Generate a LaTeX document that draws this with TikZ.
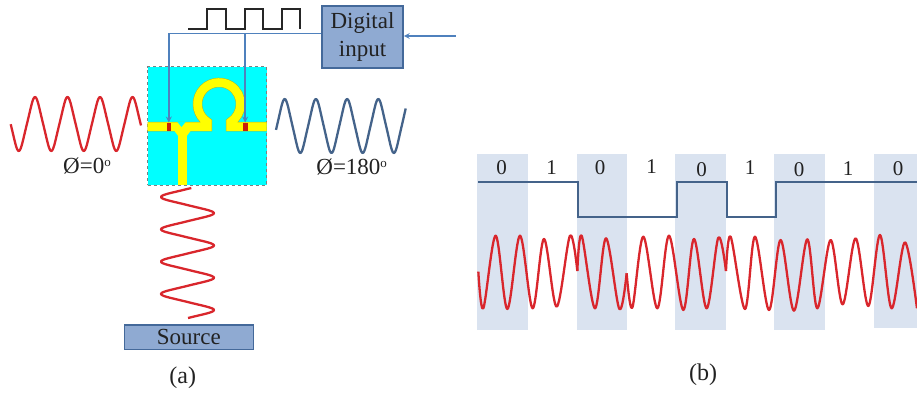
\documentclass[tikz,border=0pt]{standalone}
\usepackage{fontspec}
\setmainfont{Liberation Serif}
\usetikzlibrary{arrows, positioning}
\definecolor{boxblue}{HTML}{8FAAD2}
\definecolor{boxedge}{HTML}{44699A}
\definecolor{linkblue}{HTML}{4F81BD}
\definecolor{wavered}{HTML}{D9262C}
\definecolor{waveblue}{HTML}{44638A}
\definecolor{bandblue}{HTML}{DAE3F0}
\definecolor{textgray}{HTML}{222222}
\definecolor{boardcyan}{HTML}{00FFFF}
\definecolor{stripyellow}{HTML}{FFFF00}
\definecolor{stripedge}{HTML}{B8B820}
\definecolor{diodered}{HTML}{C8200A}
\newcommand{\degmark}{\raisebox{7pt}{\fontsize{13}{13}\selectfont o}}

\begin{document}
\begin{tikzpicture}[
    x=1pt, y=1pt,
    declare function={tri(\t)=0.947*(sin(\t)-sin(3*\t)/18);},
    block/.style={rectangle, draw=boxedge, line width=1.6pt, fill=boxblue, text=textgray, inner sep=0pt, align=center, font=\fontsize{23}{28}\selectfont},
    chip/.style={rectangle, draw=gray, dashed, line width=0.7pt, fill=boardcyan, minimum width=119.2pt, minimum height=118.3pt, inner sep=0pt},
    diode/.style={rectangle, fill=diodered, minimum width=4.6pt, minimum height=8pt, inner sep=0pt},
    caption/.style={text=textgray, inner sep=0pt, font=\fontsize{24}{28}\selectfont},
    phase/.style={text=textgray, inner sep=0pt, font=\fontsize{23}{26}\selectfont},
    bit/.style={text=textgray, inner sep=0pt, font=\fontsize{21}{24}\selectfont},
    band/.style={fill=bandblue, draw=none},
    arrow/.style={-stealth, line width=1.6pt, draw=linkblue},
    redwave/.style={draw=wavered, line width=2.3pt, line join=round},
    bluewave/.style={draw=waveblue, line width=2.3pt, line join=round}
]
    \useasboundingbox (0,0) rectangle (917,-394);

    % (a) modulator
    \node [chip] (board) at (207.1,-125.8) {};
    \foreach \w/\c in {9.5/stripedge, 8.5/stripyellow} {
        \draw [draw=\c, line width=\w pt, line join=miter] (147.5,-126.7) -- (207.45,-126.7) -- (207.45,-122.1) arc [start angle=237.5, end angle=-57.5, radius=21.5] -- (230.55,-126.7) -- (266.7,-126.7);
        \draw [draw=\c, line width=\w pt] (182.5,-185) -- (182.5,-128);
    }
    \fill [stripyellow] (174,-130.4) -- (191,-130.4) -- (186,-137) -- (179,-137) -- cycle;
    \fill [boardcyan] (177.5,-122) -- (185.5,-122) -- (181.5,-127) -- cycle;
    \node [diode] (leftdiode) at (168.8,-126.7) {};
    \node [diode] (rightdiode) at (245.2,-126.7) {};

    \node [block, minimum width=81pt, minimum height=62pt] (digital) at (362.5,-37) {Digital\\input};
    \node [block, minimum width=129pt, minimum height=24.4pt, below=138.9pt of board.south, anchor=north, xshift=-18.3pt] (source) {Source};
    \node [caption, below=16pt of source, xshift=-6pt] (capa) {(a)};
    \node [phase] (phaseleft) at (87,-166) {Ø=0\degmark};
    \node [phase] (phaseright) at (351.7,-166.5) {Ø=180\degmark};

    \coordinate (trigger) at (455.7,-36);
    \coordinate (tap) at ([yshift=3.5pt]digital.west -| rightdiode.north);
    \draw [arrow] (trigger) -- (digital.east |- trigger);
    \draw [arrow] ([yshift=3.5pt]digital.west) -| (leftdiode.north);
    \draw [arrow] (tap) -- (rightdiode.north);

    \draw [draw=black!85, line width=2.3pt] (188,-28.7) -- (207,-28.7) -- (207,-9) -- (226,-9) -- (226,-28.7) -- (245,-28.7) -- (245,-9) -- (263,-9) -- (263,-28.7) -- (282,-28.7) -- (282,-9) -- (300,-9) -- (300,-29);

    \draw [redwave] plot [domain=10.7:141, samples=160] (\x, {-124+27*tri((\x-26.9)/32.5*360)});
    \draw [bluewave] plot [domain=276:405.7, samples=160] (\x, {-126+27*tri((\x-284.7)/31.2*360+90)});
    \draw [redwave] plot [domain=188:318, samples=160] ({187.5-26.5*tri((\x-197)/32.3*360+90)}, -\x);

    % (b) bit stream
    \foreach \a in {477.3, 576.7, 675.3, 774.3} {
        \fill [band] (\a,-154) rectangle (\a+50.3,-330);
    }
    \fill [band] (873.7,-154) rectangle (917,-328);
    \foreach \b/\p/\q in {0/501.7/167.7, 1/551.7/168, 0/600/167.7, 1/651.7/167, 0/701.7/170, 1/750/168, 0/799/170, 1/848/169, 0/898/169} {
        \node [bit] at (\p,-\q) {\b};
    }
    \node [caption] (capb) at (703,-375) {(b)};

    \draw [draw=waveblue, line width=2pt] (478,-181.7) -- (578,-181.7) -- (578,-216.7) -- (676.7,-216.7) -- (676.7,-181.7) -- (726.7,-181.7) -- (726.7,-216.7) -- (776,-216.7) -- (776,-181.7) -- (917,-181.7);

    \begin{scope}[shift={(470pt,-145pt)}, x=0.3333pt, y=-0.3333pt]
        \draw [redwave] plot [smooth, tension=0.55] coordinates {(25,380) (40,490) (77,272) (112,492) (150,272) (188,490) (222,282) (260,485) (300,272) (322,378)};
        \draw [redwave] plot [smooth, tension=0.55] coordinates {(322,378) (335,272) (375,490) (408,280) (448,492) (470,385)};
        \draw [redwave] plot [smooth, tension=0.55] coordinates {(470,385) (487,488) (520,275) (562,490) (597,272) (640,495) (672,282) (710,490) (745,278) (768,378)};
        \draw [redwave] plot [smooth, tension=0.55] coordinates {(768,378) (782,275) (825,492) (855,275) (897,495) (932,285) (972,497) (1012,283) (1042,490) (1082,285) (1118,478) (1157,280) (1195,483) (1230,270) (1265,490) (1305,292) (1341,490)};
    \end{scope}
\end{tikzpicture}
\end{document}
